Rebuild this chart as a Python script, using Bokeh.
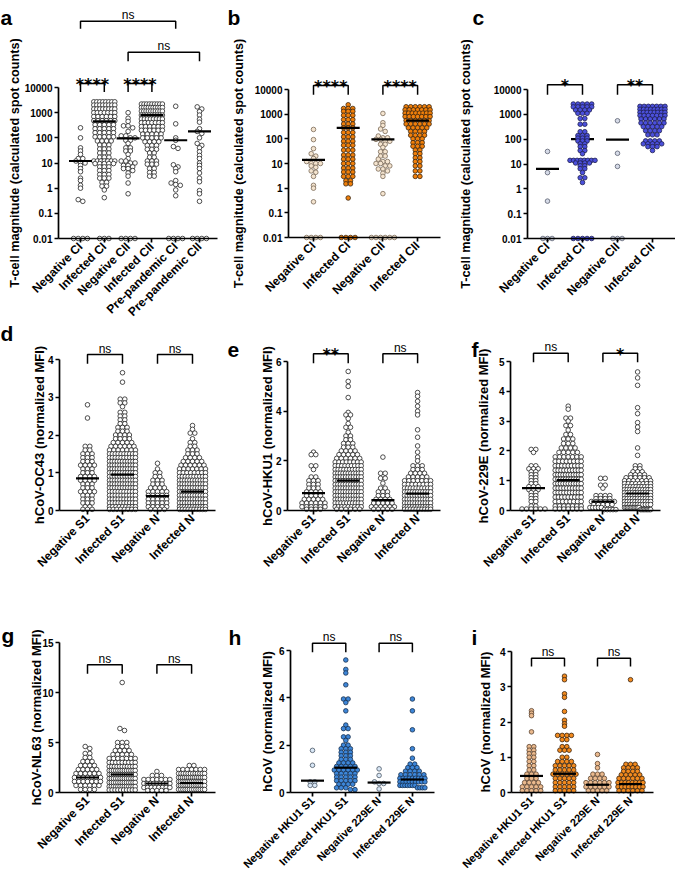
import math
from bokeh.plotting import figure
from bokeh.layouts import row, column
from bokeh.models import FixedTicker
from bokeh.core.properties import value
from bokeh.embed import file_html
from bokeh.resources import INLINE

FONT = "Liberation Sans"
STAR_FONT = "DejaVu Sans"

# ======================= DATA =======================
# each group: values (levels) and how many dots sit at that level; 0.01 = zero on log axes
a_cats = ["Negative CI", "Infected CI", "Negative CII", "Infected CII", "Pre-pandemic CI", "Pre-pandemic CII"]
a_med = [12, 450, 95, 800, 80, 180]
a1_v = [250, 100, 40, 30, 22, 15, 12, 10, 8, 6, 4.5, 2.5, 2, 1.3, 1, 0.35, 0.3, 0.01]
a1_n = [1, 1, 1, 1, 1, 2, 1, 2, 1, 1, 1, 1, 1, 1, 1, 1, 1, 4]
a2_v = [2700, 2000, 1400, 1000, 700, 480, 330, 230, 160, 110, 75, 52, 36, 25, 17, 12, 9.5, 7, 5, 3.5, 2.5, 1.7, 1.2, 0.85, 0.42, 0.01]
a2_n = [8, 8, 8, 7, 6, 6, 5, 5, 5, 5, 4, 3, 3, 3, 3, 7, 5, 3, 3, 3, 3, 2, 2, 1, 1, 3]
a3_v = [1000, 600, 450, 300, 250, 180, 120, 100, 80, 60, 40, 30, 22, 15, 12, 10, 8, 7, 6, 5, 4, 3, 1.6, 0.6, 0.01]
a3_n = [1, 1, 1, 2, 1, 1, 2, 2, 2, 1, 2, 2, 1, 1, 2, 2, 2, 1, 2, 1, 1, 1, 1, 1, 4]
a4_v = [2200, 1600, 1150, 800, 560, 400, 280, 200, 140, 100, 70, 50, 35, 25, 17, 12, 9, 6, 4.2, 3]
a4_n = [9, 10, 10, 9, 8, 7, 6, 6, 5, 5, 4, 3, 3, 2, 2, 3, 3, 2, 2, 2]
a5_v = [1800, 360, 100, 80, 45, 38, 8.5, 7, 6, 4.5, 2, 1.6, 1.4, 1.3, 0.85, 0.5, 0.01]
a5_n = [1, 1, 1, 1, 1, 1, 1, 1, 1, 1, 1, 1, 1, 1, 1, 1, 4]
a6_v = [1700, 1400, 1100, 800, 550, 420, 230, 180, 150, 100, 60, 50, 40, 28, 20, 15, 10, 8, 6, 4, 2.5, 1.8, 0.8, 0.6, 0.3, 0.01]
a6_n = [1, 1, 1, 1, 1, 1, 1, 1, 1, 1, 1, 1, 1, 1, 1, 1, 1, 1, 1, 1, 1, 1, 1, 1, 1, 4]

b_cats = ["Negative CI", "Infected CI", "Negative CII", "Infected CII"]
b_med = [14, 280, 95, 550]
b1_v = [240, 93, 40, 25, 20, 16, 12, 10, 8, 7, 5, 4.4, 3, 1.3, 1, 0.28, 0.01]
b1_n = [1, 1, 1, 1, 1, 1, 1, 3, 1, 1, 1, 1, 1, 1, 1, 1, 4]
b2_v = [2400, 1700, 1300, 900, 600, 400, 280, 180, 120, 80, 55, 35, 22, 15, 10, 6.5, 4.5, 3, 2, 1.5, 0.4, 0.01]
b2_n = [1, 3, 3, 3, 3, 3, 3, 3, 3, 3, 3, 3, 3, 3, 3, 3, 3, 3, 2, 2, 1, 4]
b3_v = [1070, 450, 350, 250, 200, 130, 110, 95, 80, 60, 45, 30, 20, 15, 12, 10, 8, 6, 5, 4, 3, 0.6, 0.01]
b3_n = [1, 1, 1, 1, 1, 1, 2, 2, 2, 2, 1, 2, 2, 1, 2, 2, 2, 2, 1, 1, 1, 1, 6]
b4_v = [2000, 1500, 1100, 800, 550, 400, 280, 200, 140, 100, 70, 50, 35, 25, 17, 12, 8, 5, 3]
b4_n = [6, 7, 8, 7, 6, 6, 5, 4, 4, 3, 3, 3, 2, 2, 2, 2, 2, 2, 2]

c_cats = ["Negative CI", "Infected CI", "Negative CII", "Infected CII"]
c_med = [6.4, 100, 95, 650]
c1_v = [32, 4.5, 0.32, 0.01]
c1_n = [1, 1, 1, 3]
c2_v = [2600, 2000, 1500, 1100, 680, 400, 200, 140, 110, 85, 65, 50, 35, 26, 14, 11, 8.5, 6.5, 4.5, 2.8, 1.8, 0.01]
c2_n = [5, 5, 4, 3, 2, 2, 2, 3, 3, 3, 2, 2, 2, 1, 8, 4, 2, 2, 1, 2, 1, 5]
c3_v = [550, 27, 8, 0.01]
c3_n = [1, 1, 1, 3]
c4_v = [2100, 1600, 1200, 900, 650, 450, 320, 220, 150, 85, 65, 50, 35]
c4_n = [7, 8, 8, 7, 6, 6, 5, 4, 3, 4, 5, 3, 1]

d_cats = ["Negative S1", "Infected S1", "Negative N", "Infected N"]
d_med = [0.85, 0.95, 0.38, 0.5]
d1_v = [2.8, 2.45, 1.7, 1.6, 1.5, 1.4, 1.3, 1.2, 1.1, 1.0, 0.9, 0.8, 0.7, 0.6, 0.5, 0.4, 0.3, 0.2, 0.1, 0.03]
d1_n = [1, 1, 2, 2, 3, 3, 3, 4, 3, 3, 4, 4, 3, 3, 4, 3, 3, 3, 2, 3]
d2_v = [3.65, 3.4, 2.95, 2.85, 2.75, 2.6, 2.5, 2.4, 2.3, 2.2, 2.1, 2.0, 1.9, 1.8, 1.7, 1.6, 1.5, 1.4, 1.3, 1.2,
        1.1, 1.0, 0.9, 0.8, 0.7, 0.6, 0.5, 0.4, 0.3, 0.2, 0.1, 0.03]
d2_n = [1, 1, 2, 2, 1, 2, 2, 2, 2, 3, 3, 4, 4, 5, 6, 7, 10, 10, 11, 11, 11, 11, 11, 11, 11, 11, 10, 10, 10, 10, 9, 8]
d3_v = [1.25, 1.1, 1.0, 0.9, 0.8, 0.7, 0.6, 0.5, 0.4, 0.3, 0.2, 0.1, 0.03]
d3_n = [1, 1, 2, 2, 3, 3, 4, 5, 5, 5, 5, 5, 4]
d4_v = [2.25, 2.15, 2.05, 1.9, 1.8, 1.7, 1.6, 1.5, 1.4, 1.3, 1.2, 1.1, 1.0, 0.9, 0.8, 0.7, 0.6, 0.5, 0.4, 0.3, 0.2, 0.1, 0.03]
d4_n = [1, 1, 2, 1, 2, 2, 3, 3, 4, 5, 6, 7, 8, 10, 11, 11, 11, 11, 11, 11, 11, 11, 10]

e_cats = ["Negative S1", "Infected S1", "Negative N", "Infected N"]
e_med = [0.7, 1.2, 0.42, 0.68]
e1_v = [2.35, 2.25, 1.8, 1.65, 1.35, 1.2, 1.05, 0.9, 0.75, 0.6, 0.45, 0.3, 0.15, 0.05]
e1_n = [1, 2, 2, 1, 2, 3, 3, 3, 4, 4, 5, 6, 6, 4]
e2_v = [5.6, 5.2, 5.0, 4.55, 3.95, 3.85, 3.7, 3.5, 3.35, 3.15, 3.0, 2.85, 2.7, 2.55, 2.4, 2.25, 2.1, 1.95, 1.8,
        1.65, 1.5, 1.35, 1.2, 1.05, 0.9, 0.75, 0.6, 0.45, 0.3, 0.15, 0.05]
e2_n = [1, 1, 1, 1, 1, 2, 1, 1, 2, 1, 2, 2, 3, 3, 4, 5, 6, 8, 9, 10, 11, 11, 11, 11, 11, 11, 11, 11, 10, 9, 6]
e3_v = [2.15, 1.5, 1.3, 1.1, 0.9, 0.75, 0.6, 0.45, 0.3, 0.15, 0.05]
e3_n = [1, 2, 2, 1, 2, 3, 3, 4, 5, 6, 5]
e4_v = [4.75, 4.6, 4.4, 4.2, 4.0, 3.85, 3.25, 2.95, 2.6, 2.35, 2.15, 2.0, 1.8, 1.65, 1.5, 1.35, 1.2, 1.05,
        0.9, 0.75, 0.6, 0.45, 0.3, 0.15, 0.05]
e4_n = [1, 1, 1, 1, 1, 1, 1, 1, 1, 1, 1, 1, 3, 3, 4, 5, 7, 8, 10, 11, 11, 11, 11, 11, 10]

f_cats = ["Negative S1", "Infected S1", "Negative N", "Infected N"]
f_med = [0.75, 1.02, 0.3, 0.57]
f1_v = [2.05, 1.95, 1.5, 1.4, 1.3, 1.2, 1.1, 1.0, 0.9, 0.8, 0.7, 0.6, 0.5, 0.4, 0.3, 0.15, 0.05]
f1_n = [2, 1, 2, 3, 2, 2, 2, 2, 2, 3, 3, 2, 2, 2, 2, 2, 6]
f2_v = [3.5, 3.4, 3.1, 3.0, 2.85, 2.7, 2.55, 2.4, 2.25, 2.1, 1.95, 1.8, 1.65, 1.5, 1.35, 1.2, 1.05, 0.9, 0.75,
        0.6, 0.45, 0.3, 0.15, 0.05]
f2_n = [1, 1, 2, 1, 2, 1, 2, 3, 3, 4, 5, 7, 8, 9, 10, 11, 11, 11, 10, 10, 9, 8, 7, 7]
f3_v = [1.08, 0.85, 0.75, 0.5, 0.4, 0.3, 0.2, 0.1, 0.03]
f3_n = [2, 2, 1, 4, 4, 6, 5, 5, 5]
f4_v = [4.65, 4.45, 4.2, 3.45, 3.25, 2.95, 2.8, 2.65, 2.1, 1.85, 1.5, 1.4, 1.3, 1.2, 1.1, 1.0, 0.9, 0.8,
        0.7, 0.6, 0.5, 0.4, 0.3, 0.2, 0.1, 0.03]
f4_n = [1, 1, 1, 1, 1, 1, 1, 1, 1, 1, 2, 2, 3, 4, 6, 7, 8, 10, 11, 11, 11, 11, 11, 11, 11, 8]

g_cats = ["Negative S1", "Infected S1", "Negative N", "Infected N"]
g_med = [1.5, 1.8, 0.9, 0.95]
g1_v = [4.6, 4.4, 3.9, 3.5, 3.1, 2.7, 2.3, 1.9, 1.5, 1.1, 0.7, 0.3]
g1_n = [1, 1, 2, 2, 3, 4, 5, 6, 7, 7, 6, 4]
g2_v = [11.0, 6.4, 6.2, 5.0, 4.6, 4.2, 3.8, 3.4, 3.0, 2.6, 2.2, 1.8, 1.4, 1.0, 0.6, 0.25]
g2_n = [1, 1, 1, 3, 3, 4, 5, 7, 9, 11, 13, 13, 13, 13, 13, 10]
g3_v = [2.1, 1.7, 1.3, 0.9, 0.5, 0.2]
g3_n = [1, 3, 7, 9, 8, 5]
g4_v = [2.7, 2.3, 1.9, 1.5, 1.1, 0.7, 0.3]
g4_n = [2, 7, 12, 14, 15, 15, 13]

h_cats = ["Negative HKU1 S1", "Infected HKU1 S1", "Negative 229E N", "Infected 229E N"]
h_med = [0.5, 1.05, 0.42, 0.55]
h1_v = [1.78, 1.15, 0.45, 0.3]
h1_n = [1, 1, 2, 2]
h2_v = [5.6, 5.2, 5.05, 4.55, 3.95, 3.8, 3.45, 2.85, 2.7, 2.35, 2.2, 2.0, 1.85, 1.7, 1.55, 1.4, 1.25, 1.1,
        0.95, 0.8, 0.65, 0.5, 0.35, 0.2, 0.12]
h2_n = [1, 1, 1, 1, 2, 1, 1, 1, 2, 2, 1, 2, 3, 3, 3, 3, 4, 5, 6, 5, 5, 5, 4, 3, 2]
h3_v = [1.0, 0.72, 0.45, 0.38, 0.15]
h3_n = [1, 1, 1, 2, 1]
h4_v = [3.95, 3.45, 2.65, 1.85, 1.45, 1.2, 1.05, 0.9, 0.75, 0.6, 0.45, 0.3, 0.2]
h4_n = [1, 1, 1, 1, 1, 2, 3, 4, 6, 9, 9, 7, 4]

i_cats = ["Negative HKU1 S1", "Infected HKU1 S1", "Negative 229E N", "Infected 229E N"]
i_med = [0.47, 0.53, 0.22, 0.24]
i1_v = [2.32, 2.25, 2.18, 1.72, 1.3, 1.2, 1.1, 1.0, 0.88, 0.76, 0.64, 0.52, 0.4, 0.28, 0.16, 0.05]
i1_n = [1, 1, 1, 1, 2, 2, 2, 2, 2, 2, 2, 3, 3, 4, 5, 5]
i2_v = [3.3, 3.2, 2.8, 2.7, 2.3, 2.05, 1.95, 1.88, 1.62, 1.5, 1.3, 1.2, 1.0, 0.88, 0.76, 0.64, 0.52, 0.4,
        0.28, 0.16, 0.05]
i2_n = [1, 1, 1, 1, 1, 1, 1, 1, 4, 2, 2, 3, 2, 4, 5, 5, 6, 5, 5, 5, 5]
i3_v = [1.08, 0.82, 0.7, 0.52, 0.4, 0.28, 0.16, 0.05]
i3_n = [1, 1, 1, 3, 4, 6, 6, 5]
i4_v = [3.2, 0.8, 0.7, 0.6, 0.5, 0.4, 0.28, 0.16, 0.05]
i4_n = [1, 3, 4, 4, 5, 6, 8, 8, 6]

log_ticks = [0.01, 0.1, 1, 10, 100, 1000, 10000]
log_tick_labels = ["0.01", "0.1", "1", "10", "100", "1000", "10000"]

# ======================= STYLE / LAYOUT =======================
WH = ("white", "#222222")
OR_N, OR_I = ("#f4e4cf", "#7a6a58"), ("#f07f0a", "#3a2610")
BL_N, BL_I = ("#d6dbe8", "#5a6070"), ("#4b50dc", "#1f2050")
SB_N, SB_I = ("#d9e7f6", "#4b5866"), ("#3d86d8", "#17304f")
TN_N, TN_I = ("#eab98d", "#5b4330"), ("#f28a1e", "#3a2410")

ROW1, ROW2 = 318, 592
TTL_A = "T-cell magnitude (calculated spot counts)"


def expand(v, n):
    out = []
    for val, cnt in zip(v, n):
        out += [val] * cnt
    return out


def swarm(vals, topx, sp, d=4.6, maxw=26.0, thr=2.4):
    """Row-wise scatter offsets (like a column scatter plot): points within a dot-height
    band share a row, centred, squeezed when the row is wider than maxw."""
    order = sorted(range(len(vals)), key=lambda k: -vals[k])
    offs = [0.0] * len(vals)
    rows, cur, ystart = [], [], None
    for k in order:
        py = topx(vals[k])
        if cur and py - ystart > thr:
            rows.append(cur)
            cur = []
        if not cur:
            ystart = py
        cur.append(k)
    if cur:
        rows.append(cur)
    for r in rows:
        n = len(r)
        step = d if n <= 1 else min(d, maxw / (n - 1))
        for j, k in enumerate(r):
            offs[k] = (j - (n - 1) / 2) * step / sp
    return offs


def build(cfg, cats, groups, meds):
    cx, cy, cw, ch = cfg["cell"]
    sp = cfg["sp"]
    xpx = lambda px: 1 + (px - cfg["c1"]) / sp
    lo, hi = cfg["ymin"], cfg["ymax"]
    y0, y1 = cfg["y0"], cfg["y1"]
    if cfg["log"]:
        L0, L1 = math.log10(lo), math.log10(hi)
        k = (y0 - y1) / (L1 - L0)
        ypx = lambda px: 10 ** (L0 + (y0 - px) / k)
        topx = lambda v: y0 - (math.log10(v) - L0) * k
    else:
        k = (y0 - y1) / (hi - lo)
        ypx = lambda px: lo + (y0 - px) / k
        topx = lambda v: y0 - (v - lo) * k

    p = figure(width=cw, height=ch, x_range=(xpx(cx), xpx(cx + cw)), y_range=(ypx(cy + ch), ypx(cy)),
               y_axis_type="log" if cfg["log"] else "linear",
               output_backend="svg", toolbar_location=None,
               min_border_left=0, min_border_right=0, min_border_top=0, min_border_bottom=0)
    p.xgrid.visible = False
    p.ygrid.visible = False
    p.outline_line_color = None
    p.background_fill_color = "white"
    p.border_fill_color = "white"

    xa, ya = p.xaxis[0], p.yaxis[0]
    for ax in (xa, ya):
        ax.axis_line_color = "black"
        ax.axis_line_width = 1.7
        ax.major_tick_line_color = "black"
        ax.major_tick_line_width = 1.7
        ax.major_tick_in = 0
        ax.major_tick_out = 4
        ax.minor_tick_line_color = None
        ax.major_label_text_font = FONT
        ax.major_label_text_font_style = "bold"
        ax.major_label_text_color = "black"
        ax.major_label_standoff = 2
    xa.ticker = FixedTicker(ticks=list(range(1, len(cats) + 1)))
    xa.major_label_overrides = {i + 1: c for i, c in enumerate(cats)}
    xa.major_label_orientation = math.pi / 4
    xa.major_label_text_font_size = cfg["xfs"]
    xa.fixed_location = lo
    xa.bounds = (xpx(cfg["fl"]), xpx(cfg["xend"]))
    ya.ticker = FixedTicker(ticks=cfg["ticks"])
    ya.fixed_location = xpx(cfg["fl"])
    ya.bounds = (lo, hi)
    ya.major_label_text_font_size = "10px"
    if cfg["log"]:
        ya.major_label_overrides = dict(zip(log_ticks, log_tick_labels))

    def medians():
        p.scatter(list(range(1, len(meds) + 1)), meds, marker="dash", size=23,
                  line_color="black", line_width=2.2)

    if cfg.get("med_under"):
        medians()
    for gi, (v, n) in enumerate(groups):
        vals = expand(v, n)
        offs = swarm(vals, topx, sp, maxw=cfg["maxw"])
        fill, line = cfg["colors"][gi]
        p.scatter([gi + 1 + o for o in offs], vals, size=4.6, marker="circle",
                  fill_color=fill, line_color=line, line_width=0.8)
    if not cfg.get("med_under"):
        medians()

    for (i, j, txt, top, leg) in cfg["sig"]:
        p.multi_line(xs=[[i, i, j, j]], ys=[[ypx(leg), ypx(top), ypx(top), ypx(leg)]],
                     line_color="black", line_width=1.5)
        if txt == "ns":
            p.text(x=[(i + j) / 2], y=[ypx(top - 6)], text=[txt], text_font=value(FONT),
                   text_font_size="12px", text_align="center", text_baseline="alphabetic",
                   text_color="black")
        else:
            p.text(x=[(i + j) / 2], y=[ypx(top + 1)], text=[txt], text_font=value(STAR_FONT),
                   text_font_size="16px", text_font_style="bold", text_align="center",
                   text_baseline="alphabetic", text_color="black")

    # y-axis title
    p.text(x=[xpx(cfg["tx"])], y=[ypx((y0 + y1) / 2)], text=[cfg["title"]], angle=math.pi / 2,
           text_align="center", text_baseline="middle", text_font=value(FONT),
           text_font_size=cfg["tfs"], text_font_style="bold", text_color="black")
    # panel letter
    lx, lb = cfg["letter_at"]
    p.text(x=[xpx(lx)], y=[ypx(lb)], text=[cfg["letter"]], text_align="left",
           text_baseline="alphabetic", text_font=value(FONT), text_font_size="21px",
           text_font_style="bold", text_color="black")
    return p


cfg_a = dict(letter="a", letter_at=(0, 17), cell=(0, 0, 225, ROW1), fl=58, y0=238, y1=87,
             ymin=0.01, ymax=10000, log=True, ticks=log_ticks, c1=80, sp=23.8, xend=217, maxw=21,
             title=TTL_A, tx=14, tfs="12.7px", xfs="12px", colors=[WH] * 6,
             sig=[(1, 2, "****", 83, 91.5), (3, 4, "****", 83, 91.5), (1, 5, "ns", 20.7, 28.3),
                  (3, 6, "ns", 51.7, 60.7)])
cfg_b = dict(letter="b", letter_at=(227, 17), cell=(225, 0, 225, ROW1), fl=288, y0=237, y1=89,
             ymin=0.01, ymax=10000, log=True, ticks=log_ticks, c1=313, sp=34.7, xend=440, maxw=25,
             title=TTL_A, tx=238, tfs="12.7px", xfs="12px", colors=[OR_N, OR_I, OR_N, OR_I],
             sig=[(1, 2, "****", 85, 94.3), (3, 4, "****", 85, 94.3)])
cfg_c = dict(letter="c", letter_at=(472, 17), cell=(450, 0, 225, ROW1), fl=527, y0=238, y1=89,
             ymin=0.01, ymax=10000, log=True, ticks=log_ticks, c1=547, sp=35, xend=675, maxw=25,
             title=TTL_A, tx=465, tfs="12.7px", xfs="12px", colors=[BL_N, BL_I, BL_N, BL_I], med_under=True,
             sig=[(1, 2, "*", 84.3, 94.3), (3, 4, "**", 84.3, 94.3)])
cfg_d = dict(letter="d", letter_at=(0, 333), cell=(0, ROW1, 225, ROW2 - ROW1), fl=59, y0=510, y1=359,
             ymin=0, ymax=4, log=False, ticks=[0, 1, 2, 3, 4], c1=87, sp=35, xend=215, maxw=26,
             title="hCoV-OC43 (normalized MFI)", tx=39, tfs="13px", xfs="12px", colors=[WH] * 4,
             sig=[(1, 2, "ns", 354, 363.3), (3, 4, "ns", 354, 363.3)])
cfg_e = dict(letter="e", letter_at=(227, 349), cell=(225, ROW1, 225, ROW2 - ROW1), fl=287, y0=510, y1=361,
             ymin=0, ymax=6, log=False, ticks=[0, 2, 4, 6], c1=313, sp=34.7, xend=440, maxw=26,
             title="hCoV-HKU1 (normalized MFI)", tx=267, tfs="13px", xfs="12px", colors=[WH] * 4,
             sig=[(1, 2, "**", 353.3, 362.7), (3, 4, "ns", 353.3, 362.7)])
cfg_f = dict(letter="f", letter_at=(471, 349), cell=(450, ROW1, 225, ROW2 - ROW1), fl=510, y0=510, y1=361,
             ymin=0, ymax=5, log=False, ticks=[0, 1, 2, 3, 4, 5], c1=533, sp=34.7, xend=660, maxw=26,
             title="hCoV-229E (normalized MFI)", tx=483, tfs="13px", xfs="12px", colors=[WH] * 4,
             sig=[(1, 2, "ns", 352.7, 361.7), (3, 4, "*", 352.7, 361.7)])
cfg_g = dict(letter="g", letter_at=(1, 635), cell=(0, ROW2, 225, 874 - ROW2), fl=59, y0=792, y1=642,
             ymin=0, ymax=15, log=False, ticks=[0, 5, 10, 15], c1=87, sp=34.7, xend=215, maxw=26,
             title="hCoV-NL63 (normalized MFI)", tx=36, tfs="13px", xfs="12px", colors=[WH] * 4,
             sig=[(1, 2, "ns", 664.3, 673.3), (3, 4, "ns", 664.3, 673.3)])
cfg_h = dict(letter="h", letter_at=(228, 637), cell=(225, ROW2, 225, 874 - ROW2), fl=290, y0=792, y1=650,
             ymin=0, ymax=6, log=False, ticks=[0, 2, 4, 6], c1=312, sp=33.3, xend=434, maxw=25,
             title="hCoV (normalized MFI)", tx=267, tfs="13px", xfs="11px", colors=[SB_N, SB_I, SB_N, SB_I],
             sig=[(1, 2, "ns", 642.7, 651.7), (3, 4, "ns", 642.7, 651.7)])
cfg_i = dict(letter="i", letter_at=(471, 637), cell=(450, ROW2, 225, 874 - ROW2), fl=511, y0=792, y1=651,
             ymin=0, ymax=4, log=False, ticks=[0, 1, 2, 3, 4], c1=531, sp=33, xend=653, maxw=25,
             title="hCoV (normalized MFI)", tx=485, tfs="13px", xfs="11px", colors=[TN_N, TN_I, TN_N, TN_I],
             sig=[(1, 2, "ns", 657.7, 666), (3, 4, "ns", 657.7, 666)])

pa = build(cfg_a, a_cats, [(a1_v, a1_n), (a2_v, a2_n), (a3_v, a3_n), (a4_v, a4_n), (a5_v, a5_n), (a6_v, a6_n)], a_med)
pb = build(cfg_b, b_cats, [(b1_v, b1_n), (b2_v, b2_n), (b3_v, b3_n), (b4_v, b4_n)], b_med)
pc = build(cfg_c, c_cats, [(c1_v, c1_n), (c2_v, c2_n), (c3_v, c3_n), (c4_v, c4_n)], c_med)
pd = build(cfg_d, d_cats, [(d1_v, d1_n), (d2_v, d2_n), (d3_v, d3_n), (d4_v, d4_n)], d_med)
pe = build(cfg_e, e_cats, [(e1_v, e1_n), (e2_v, e2_n), (e3_v, e3_n), (e4_v, e4_n)], e_med)
pf = build(cfg_f, f_cats, [(f1_v, f1_n), (f2_v, f2_n), (f3_v, f3_n), (f4_v, f4_n)], f_med)
pg = build(cfg_g, g_cats, [(g1_v, g1_n), (g2_v, g2_n), (g3_v, g3_n), (g4_v, g4_n)], g_med)
ph = build(cfg_h, h_cats, [(h1_v, h1_n), (h2_v, h2_n), (h3_v, h3_n), (h4_v, h4_n)], h_med)
pi_ = build(cfg_i, i_cats, [(i1_v, i1_n), (i2_v, i2_n), (i3_v, i3_n), (i4_v, i4_n)], i_med)

layout = column(row(pa, pb, pc), row(pd, pe, pf), row(pg, ph, pi_))
open("out.html", "w").write(file_html(layout, INLINE))
